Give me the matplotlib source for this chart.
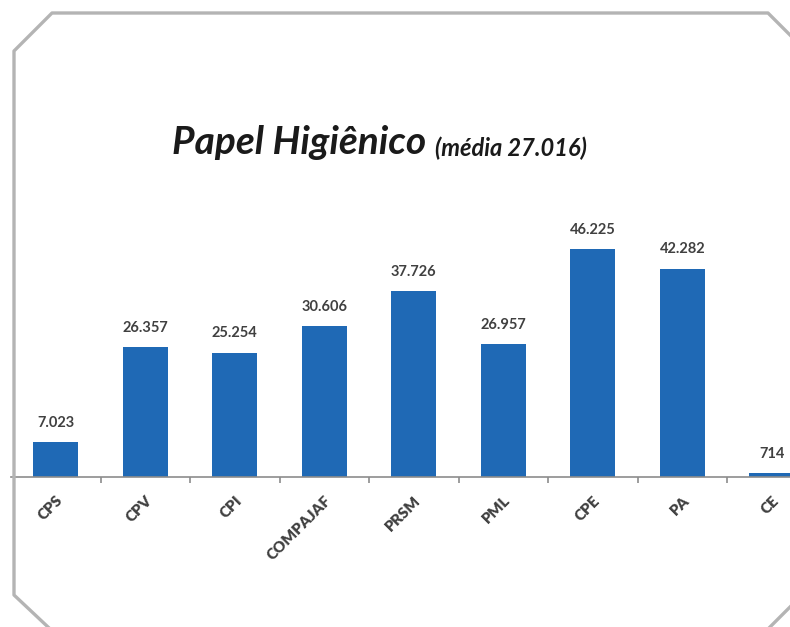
import matplotlib.pyplot as plt
from matplotlib.lines import Line2D

categories = ["CPS", "CPV", "CPI", "COMPAJAF", "PRSM", "PML", "CPE", "PA", "CE"]
values = [7023, 26357, 25254, 30606, 37726, 26957, 46225, 42282, 714]
value_labels = ["7.023", "26.357", "25.254", "30.606", "37.726", "26.957", "46.225", "42.282", "714"]

W, H = 790, 627
BAR_COLOR = "#1F69B5"
TEXT_COLOR = "#404040"

plt.rcParams["font.family"] = ["Lato", "DejaVu Sans"]

fig = plt.figure(figsize=(W / 100, H / 100), dpi=100)
fig.patch.set_facecolor("white")

# axes placed in pixel terms, runs past the right edge like the cropped original
left_px, width_px = 11, 9 * 89.5
base_px, height_px = 477, 276
ax = fig.add_axes([left_px / W, (H - base_px) / H, width_px / W, height_px / H])

x = range(len(categories))
ax.bar(x, values, width=0.5, color=BAR_COLOR)
ax.set_xlim(-0.5, len(categories) - 0.5)
ax.set_ylim(0, 56000)

for xi, v, lab in zip(x, values, value_labels):
    ax.annotate(lab, (xi, v), xytext=(0, 9), textcoords="offset points",
                ha="center", va="bottom", fontsize=10.5, fontweight="bold",
                color=TEXT_COLOR)

for s in ["top", "right", "left"]:
    ax.spines[s].set_visible(False)
ax.spines["bottom"].set_color("#8C8C8C")
ax.spines["bottom"].set_linewidth(1.2)
ax.set_yticks([])
ax.set_xticks(list(x))
ax.set_xticklabels(categories, rotation=45, ha="right", rotation_mode="anchor",
                   fontsize=11, fontweight="heavy", color=TEXT_COLOR)
ax.tick_params(axis="x", which="major", length=0, pad=12)
ax.set_xticks([i + 0.5 for i in range(len(categories) - 1)], minor=True)
ax.tick_params(axis="x", which="minor", length=4, color="#8C8C8C", width=1.2)

# title in two parts
t1 = fig.text(172 / W, 1 - 154 / H, "Papel Higiênico", fontsize=28,
              fontweight="bold", fontstyle="italic", color="#1A1A1A",
              ha="left", va="baseline")
fig.canvas.draw()
ax.annotate("(média 27.016)", xy=(1, 0), xycoords=t1, xytext=(6, 0),
            textcoords="offset points", fontsize=17, fontweight="bold",
            fontstyle="italic", color="#1A1A1A", ha="left", va="bottom",
            annotation_clip=False)

# octagon-like frame around the chart
frame_pts = [(48, 627), (14, 595), (14, 51), (52, 13), (768, 13), (790, 35)]
fig.add_artist(Line2D([p[0] / W for p in frame_pts], [1 - p[1] / H for p in frame_pts],
                      transform=fig.transFigure, color="#B4B4B4", linewidth=2.4))
fig.add_artist(Line2D([770 / W, 1.0], [0.0, 1 - 607 / H], transform=fig.transFigure,
                      color="#B4B4B4", linewidth=2.4))

fig.savefig("out.png", dpi=100)
